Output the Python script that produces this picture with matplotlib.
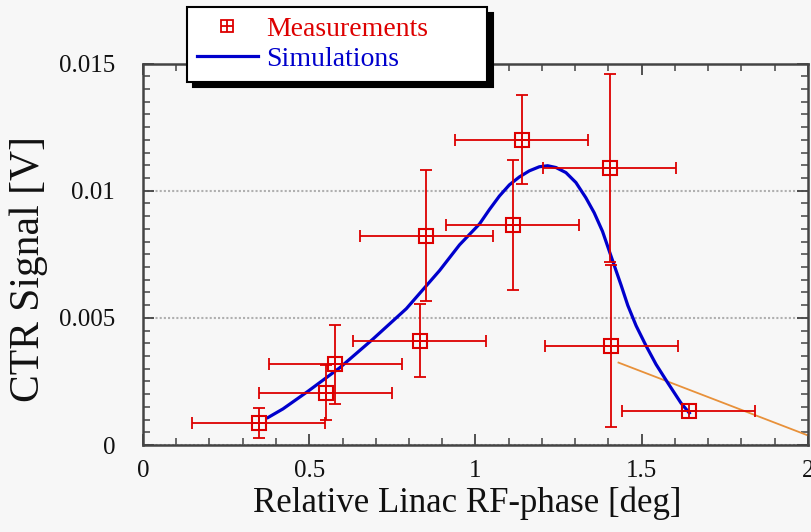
import matplotlib
matplotlib.use("Agg")
import matplotlib.pyplot as plt
from matplotlib.lines import Line2D
from matplotlib.legend_handler import HandlerTuple
from matplotlib.ticker import MultipleLocator, FuncFormatter

plt.rcParams['font.family'] = ['Liberation Serif', 'DejaVu Serif']

# measured CTR signal vs. linac RF phase
phase = [0.348, 0.550, 0.578, 0.832, 0.852, 1.139, 1.112, 1.404, 1.409, 1.642]
signal = [0.00087, 0.00206, 0.00317, 0.00410, 0.00823, 0.01201, 0.00865, 0.01089, 0.00389, 0.00135]
phase_err = [0.2, 0.2, 0.2, 0.2, 0.2, 0.2, 0.2, 0.2, 0.2, 0.2]
signal_err = [0.0006, 0.00107, 0.00154, 0.00144, 0.00257, 0.00175, 0.00255, 0.0037, 0.0032, 0.0]

# simulated curve
sim_phase = [0.376, 0.421, 0.497, 0.592, 0.692, 0.792, 0.892, 0.952, 1.012, 1.042,
             1.072, 1.102, 1.132, 1.162, 1.192, 1.217, 1.242, 1.272, 1.302, 1.332,
             1.357, 1.382, 1.407, 1.438, 1.458, 1.483, 1.513, 1.543, 1.578, 1.618, 1.643]
sim_signal = [0.00108, 0.00142, 0.00212, 0.00304, 0.00417, 0.00536, 0.00686, 0.00787, 0.00869, 0.00926,
              0.00979, 0.01023, 0.01054, 0.01078, 0.01094, 0.01098, 0.01091, 0.01071, 0.01032, 0.00972,
              0.00913, 0.00840, 0.00745, 0.00628, 0.00549, 0.00469, 0.00390, 0.00317, 0.00245, 0.00165, 0.00126]

# straight fit line at the tail
tail_phase = [1.430, 2.003]
tail_signal = [0.00324, 0.00036]

RED = '#dd0000'
BLUE = '#0000cc'
BG = '#f7f7f7'

fig = plt.figure(figsize=(8.12, 5.32), dpi=100, facecolor=BG)
ax = fig.add_axes([143 / 812, 87 / 532, 665 / 812, 381.5 / 532], facecolor=BG)

ax.plot(tail_phase, tail_signal, color='#e8913a', lw=1.3, zorder=2)
ax.plot(sim_phase, sim_signal, color=BLUE, lw=2.3, zorder=3)
ax.errorbar(phase, signal, xerr=phase_err, yerr=signal_err, fmt='none',
            ecolor=RED, elinewidth=1.3, capsize=4.5, capthick=1.3, zorder=4)
ax.plot(phase, signal, ls='none', marker='s', ms=9.8, mfc='none', mec=RED, mew=1.5, zorder=5)
ax.plot(phase, signal, ls='none', marker='+', ms=9.8, mec=RED, mew=1.3, zorder=5)

ax.set_xlim(0, 2)
ax.set_ylim(0, 0.015)
ax.xaxis.set_major_locator(MultipleLocator(0.5))
ax.xaxis.set_minor_locator(MultipleLocator(0.1))
ax.yaxis.set_major_locator(MultipleLocator(0.005))
ax.yaxis.set_minor_locator(MultipleLocator(0.0005))
fmt = FuncFormatter(lambda v, p: '%g' % round(v, 6))
ax.xaxis.set_major_formatter(fmt)
ax.yaxis.set_major_formatter(fmt)

ax.tick_params(which='both', direction='in', top=True, right=True, color='#444444',
               labelsize=18, labelcolor='#111111')
ax.tick_params(which='major', length=8, width=1.3)
ax.tick_params(which='minor', length=5, width=1.1)
ax.tick_params(axis='x', pad=11)
ax.tick_params(axis='y', pad=20)
for s in ax.spines.values():
    s.set_color('#444444')
    s.set_linewidth(1.8)

ax.yaxis.grid(True, color='#b0b0b0', ls=(0, (1, 1)), lw=1.5)
ax.set_axisbelow(True)

fig.text(467.5 / 812, 1 - 512 / 532, 'Relative Linac RF-phase [deg]', ha='center',
         va='baseline', fontsize=25, color='#111111')
fig.text(29 / 812, 1 - 269 / 532, 'CTR Signal [V]', ha='center', va='center',
         rotation=90, fontsize=30, color='#111111')

meas_handle = (Line2D([], [], ls='none', marker='s', ms=8, mfc='none', mec=RED, mew=1.3),
               Line2D([], [], ls='none', marker='+', ms=8, mec=RED, mew=1.3))
sim_handle = Line2D([], [], color=BLUE, lw=2.3)
leg = fig.legend([meas_handle, sim_handle], ['Measurements', 'Simulations'],
                 handler_map={tuple: HandlerTuple(ndivide=1)},
                 loc='upper left', bbox_to_anchor=(187 / 812, 1 - 83 / 532, 300 / 812, 76 / 532),
                 mode='expand', borderaxespad=0, fontsize=20, numpoints=1, handlelength=2.2,
                 handletextpad=0.3, borderpad=0.35, labelspacing=0.15,
                 fancybox=False, framealpha=1, facecolor='white', edgecolor='black',
                 shadow={'ox': 4, 'oy': -4, 'color': 'black', 'alpha': 1})
leg.get_frame().set_linewidth(1.5)
leg.texts[0].set_color(RED)
leg.texts[1].set_color(BLUE)

fig.savefig('out.png', dpi=100, facecolor=BG)
